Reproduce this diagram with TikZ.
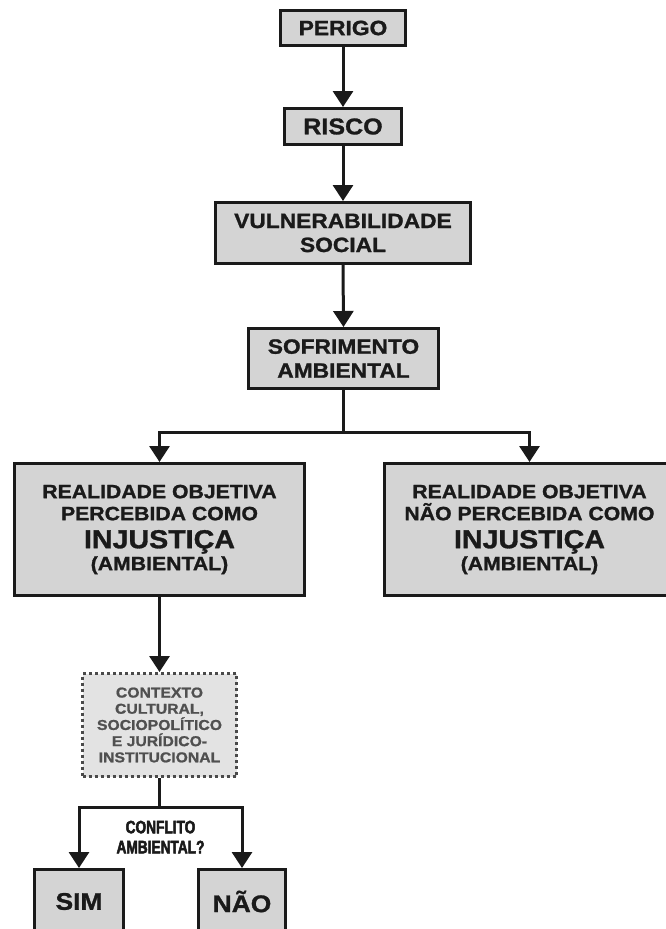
\documentclass[tikz,border=0pt]{standalone}
\usepackage{fontspec}
\setmainfont{Liberation Sans}[FakeStretch=1.1,BoldFeatures={FakeBold=1.2}]
\newfontfamily\condfont{Liberation Sans Bold}[FakeStretch=0.76,FakeBold=2.6]
\usetikzlibrary{arrows.meta}
\definecolor{boxgray}{HTML}{D4D4D4}
\definecolor{dotfill}{HTML}{E3E3E3}
\definecolor{dotline}{HTML}{4A4A4A}
\definecolor{dottext}{HTML}{505050}
\definecolor{ink}{HTML}{1A1A1A}
\begin{document}
\begin{tikzpicture}[x=1pt,y=-1pt,
  box/.style={draw=ink, fill=boxgray, line width=3pt, inner sep=0pt, align=center,
    font=\bfseries\fontsize{20.7}{24}\selectfont, text=ink},
  bigbox/.style={box, minimum width=290pt, minimum height=132pt,
    font=\bfseries\fontsize{19.3}{22}\selectfont},
  dotbox/.style={draw=dotline, fill=dotfill, line width=3pt, dash pattern=on 3pt off 3pt,
    inner sep=0pt, align=center, minimum width=154pt, minimum height=103pt,
    font=\bfseries\fontsize{14.3}{16.2}\selectfont, text=dottext},
  arr/.style={draw=ink, line width=3pt, -{Triangle[width=20pt,length=16pt]}},
  lin/.style={draw=ink, line width=3pt},
  qlabel/.style={align=center, inner sep=0pt, font=\condfont\fontsize{18}{20}\selectfont, text=ink}
]
\useasboundingbox (0,0) rectangle (666,929);
\fill[white] (0,0) rectangle (666,929);
\clip (0,0) rectangle (666,929);

\node[box, minimum width=125pt, minimum height=35pt] (perigo) at (343,28) {PERIGO};
\node[box, minimum width=117pt, minimum height=36pt, font=\bfseries\fontsize{22.8}{24}\selectfont] (risco) at (343,126.5) {RISCO};
\node[box, minimum width=255pt, minimum height=61pt] (vuln) at (343,233) {VULNERABILIDADE\\SOCIAL};
\node[box, minimum width=190pt, minimum height=60pt] (sofr) at (343.5,358.5) {SOFRIMENTO\\AMBIENTAL};

\node[bigbox] (left) at (159.5,529.5) {REALIDADE OBJETIVA\\PERCEBIDA COMO\\[6pt]{\fontsize{26}{28}\selectfont INJUSTIÇA}\\(AMBIENTAL)};
\node[bigbox] (right) at (529.5,529.5) {REALIDADE OBJETIVA\\NÃO PERCEBIDA COMO\\[6pt]{\fontsize{26}{28}\selectfont INJUSTIÇA}\\(AMBIENTAL)};

\node[dotbox] (ctx) at (159.5,725) {CONTEXTO\\CULTURAL,\\SOCIOPOLÍTICO\\E JURÍDICO-\\INSTITUCIONAL};

\node[box, minimum width=89pt, minimum height=64pt, font=\bfseries\fontsize{24}{26}\selectfont] (sim) at (79,901.5) {SIM};
\node[box, minimum width=87pt, minimum height=64pt, font=\bfseries\fontsize{24}{26}\selectfont] (nao) at (242,901.5) {NÃO};

\node[qlabel] (q) at (160.5,837) {CONFLITO\\AMBIENTAL?};

\coordinate (split) at (343.5,432);
\coordinate (split2) at (159.5,807);

\draw[arr] (perigo.south) -- (risco.north);
\draw[arr] (risco.south) -- (vuln.north);
\draw[arr] (vuln.south) -- (sofr.north);
\draw[lin] (sofr.south) -- (split);
\draw[arr] (split) -| (left.north);
\draw[arr] (split) -| (right.north);
\draw[arr] (left.south) -- (ctx.north);
\draw[lin] (ctx.south) -- (split2);
\draw[arr] (split2) -| (sim.north);
\draw[arr] (split2) -| (nao.north);
\end{tikzpicture}
\end{document}
